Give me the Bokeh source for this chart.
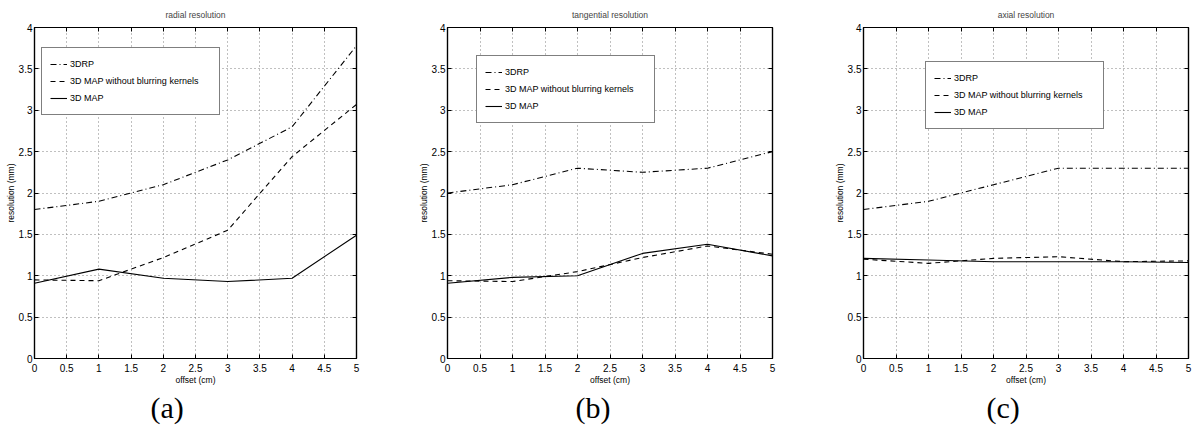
from bokeh.plotting import figure
from bokeh.layouts import row
from bokeh.models import (FixedTicker, LinearAxis, Legend, LegendItem, Title,
                          CustomJSTickFormatter, Range1d)
from bokeh.embed import file_html
from bokeh.resources import INLINE

# ---- data -------------------------------------------------------------
offset = [0, 1, 2, 3, 4, 5]
x_ticks = [0, 0.5, 1, 1.5, 2, 2.5, 3, 3.5, 4, 4.5, 5]
y_ticks = [0, 0.5, 1, 1.5, 2, 2.5, 3, 3.5, 4]
series_names = ["3DRP", "3D MAP without blurring kernels", "3D MAP"]

radial_3drp = [1.8, 1.9, 2.1, 2.4, 2.8, 3.78]
radial_nobk = [0.95, 0.94, 1.22, 1.55, 2.44, 3.07]
radial_map = [0.91, 1.08, 0.97, 0.93, 0.97, 1.49]

tang_3drp = [2.0, 2.1, 2.3, 2.25, 2.3, 2.5]
tang_nobk = [0.94, 0.93, 1.05, 1.22, 1.36, 1.26]
tang_map = [0.91, 0.98, 1.0, 1.27, 1.38, 1.24]

axial_3drp = [1.8, 1.9, 2.1, 2.3, 2.3, 2.3]
axial_nobk = [1.2, 1.15, 1.21, 1.23, 1.17, 1.18]
axial_map = [1.21, 1.19, 1.17, 1.17, 1.17, 1.16]

titles = ["radial resolution", "tangential resolution", "axial resolution"]
letters = ["(a)", "(b)", "(c)"]

SANS = "Liberation Sans"
FMT = CustomJSTickFormatter(code="return String(Math.round(tick*10)/10);")
EMPTY = CustomJSTickFormatter(code="return '';")


def style_axis(ax, ticks, labels=True):
    ax.ticker = FixedTicker(ticks=ticks)
    ax.major_tick_in = 4
    ax.major_tick_out = 0
    ax.minor_tick_in = 0
    ax.minor_tick_out = 0
    ax.axis_line_color = "black"
    ax.axis_line_width = 1.2
    ax.major_tick_line_color = "black"
    if labels:
        ax.formatter = FMT
        ax.major_label_text_font = SANS
        ax.major_label_text_font_size = "10px"
        ax.major_label_text_color = "black"
        ax.axis_label_text_font = SANS
        ax.axis_label_text_font_size = "8.5px"
        ax.axis_label_text_font_style = "normal"
        ax.axis_label_text_color = "black"
    else:
        ax.formatter = EMPTY
        ax.major_label_standoff = 0


def make_panel(title, letter, d3, dn, dm, fw, right_border, legend_xy, letter_off):
    p = figure(frame_width=fw, frame_height=331,
               x_range=Range1d(0, 5), y_range=Range1d(0, 4),
               output_backend="svg", toolbar_location=None,
               min_border_left=34, min_border_right=right_border,
               min_border_top=27, min_border_bottom=80,
               background_fill_color="white", border_fill_color="white",
               outline_line_color="black", outline_line_width=1.2)
    p.title.text = title
    p.title.align = "center"
    p.title.text_font = SANS
    p.title.text_font_size = "8.5px"
    p.title.text_font_style = "normal"
    p.title.standoff = 15

    style_axis(p.xaxis[0], x_ticks)
    style_axis(p.yaxis[0], y_ticks)
    p.xaxis.axis_label = "offset (cm)"
    p.yaxis.axis_label = "resolution (mm)"
    p.xaxis.major_label_standoff = 5
    p.yaxis.major_label_standoff = 2
    p.xaxis.axis_label_standoff = 0
    p.yaxis.axis_label_standoff = 0

    top = LinearAxis()
    style_axis(top, x_ticks, labels=False)
    p.add_layout(top, "above")
    rgt = LinearAxis()
    style_axis(rgt, y_ticks, labels=False)
    p.add_layout(rgt, "right")

    for g in (p.xgrid, p.ygrid):
        g.grid_line_color = "#808080"
        g.grid_line_dash = "1 3"
        g.grid_line_width = 1
    p.xgrid.ticker = FixedTicker(ticks=x_ticks)
    p.ygrid.ticker = FixedTicker(ticks=y_ticks)

    r1 = p.line(offset, d3, line_color="black", line_width=1.1, line_dash="6 3 1 3")
    r2 = p.line(offset, dn, line_color="black", line_width=1.1, line_dash="5 4")
    r3 = p.line(offset, dm, line_color="black", line_width=1.1)

    legend = Legend(items=[LegendItem(label=series_names[0], renderers=[r1]),
                           LegendItem(label=series_names[1], renderers=[r2]),
                           LegendItem(label=series_names[2], renderers=[r3])],
                    location=legend_xy,
                    border_line_color="black", border_line_width=1.2,
                    background_fill_color="white", background_fill_alpha=1,
                    padding=8, spacing=1, margin=0,
                    label_height=16, glyph_height=16, glyph_width=17,
                    label_standoff=3, label_width=141,
                    label_text_font=SANS, label_text_font_size="9px",
                    label_text_color="black")
    p.add_layout(legend)

    lt = Title(text=letter, align="left", text_font="Liberation Serif",
               text_font_size="30px", text_font_style="normal",
               text_color="black", standoff=2, offset=letter_off)
    p.add_layout(lt, "below")
    return p


pa = make_panel(titles[0], letters[0], radial_3drp, radial_nobk, radial_map,
                322, 57, (7, 243), 116)
pb = make_panel(titles[1], letters[1], tang_3drp, tang_nobk, tang_map,
                325, 57, (29, 235), 128)
pc = make_panel(titles[2], letters[2], axial_3drp, axial_nobk, axial_map,
                325, 8, (62, 229), 123)

layout = row(pa, pb, pc)
open("out.html", "w").write(file_html(layout, INLINE))
